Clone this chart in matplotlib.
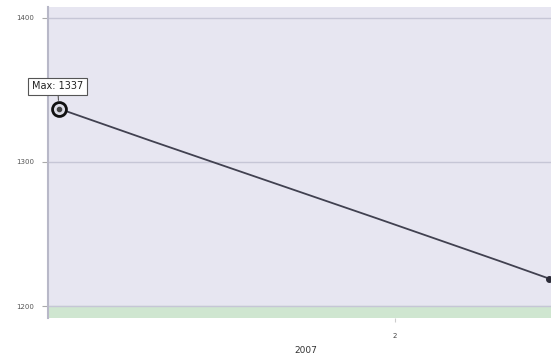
import matplotlib
matplotlib.use("Agg")
import matplotlib.pyplot as plt
from matplotlib.ticker import FixedLocator

# data
x_vals = [0.0, 0.54, 1.24, 1.89, 2.63, 2.92]
y_vals = [1337, 1315, 1287, 1261, 1231, 1219]
y_ticks = [1200, 1300, 1400]
x_ticks = [2]
x_tick_labels = ["2"]
x_title = "2007"
band = (1190, 1200)

fig = plt.figure(figsize=(5.51, 3.56), dpi=100)
fig.patch.set_facecolor("white")
ax = fig.add_axes([48/551, 1-318/356, 1-48/551, (318-7)/356])
ax.set_facecolor("#e7e6f1")

ax.set_ylim(1191.7, 1407.6)
ax.set_xlim(-0.0655, 2.93)

ax.axhspan(band[0], band[1], color="#cfe6d0", zorder=1)
for yt in y_ticks:
    ax.axhline(yt, color="#c6c6d6", lw=1.0, zorder=2)

ax.plot(x_vals, y_vals, color="#414150", lw=1.3, zorder=3, solid_capstyle="round")
ax.plot(x_vals[-1], y_vals[-1], "o", color="#2b2b38", ms=4, zorder=4, clip_on=False)

imax = max(range(len(y_vals)), key=lambda i: y_vals[i])
ax.plot(x_vals[imax], y_vals[imax], "o", ms=10, mfc="#dcdce6", mec="#111111", mew=2.0, zorder=5)
ax.plot(x_vals[imax], y_vals[imax], "o", ms=3, color="#444444", zorder=6)

ax.annotate(f"Max: {y_vals[imax]}", xy=(x_vals[imax], y_vals[imax]), xytext=(-1, 16),
            textcoords="offset points", ha="center", va="center", fontsize=7,
            color="#222222",
            bbox=dict(boxstyle="square,pad=0.4", fc="white", ec="#555555", lw=0.8),
            arrowprops=dict(arrowstyle="-", color="#555555", lw=0.8,
                            shrinkA=0, shrinkB=6), zorder=7)

for s in ["top", "right", "bottom"]:
    ax.spines[s].set_visible(False)
ax.spines["left"].set_color("#b8b8c8")
ax.spines["left"].set_linewidth(1.5)

ax.yaxis.set_major_locator(FixedLocator(y_ticks))
ax.set_yticklabels([str(v) for v in y_ticks], fontsize=5, color="#555555")
ax.tick_params(axis="y", length=4, width=0.8, color="#aaaaaa", pad=6)

ax.set_xticks(x_ticks)
ax.set_xticklabels(x_tick_labels, fontsize=5, color="#444444")
ax.tick_params(axis="x", length=3, width=0.8, color="#cccccc", pad=8)
ax.set_xlabel(x_title, fontsize=6.5, color="#333333", labelpad=4)
ax.xaxis.set_label_coords((306-48)/503, -0.09)

fig.savefig("out.png", dpi=100)
